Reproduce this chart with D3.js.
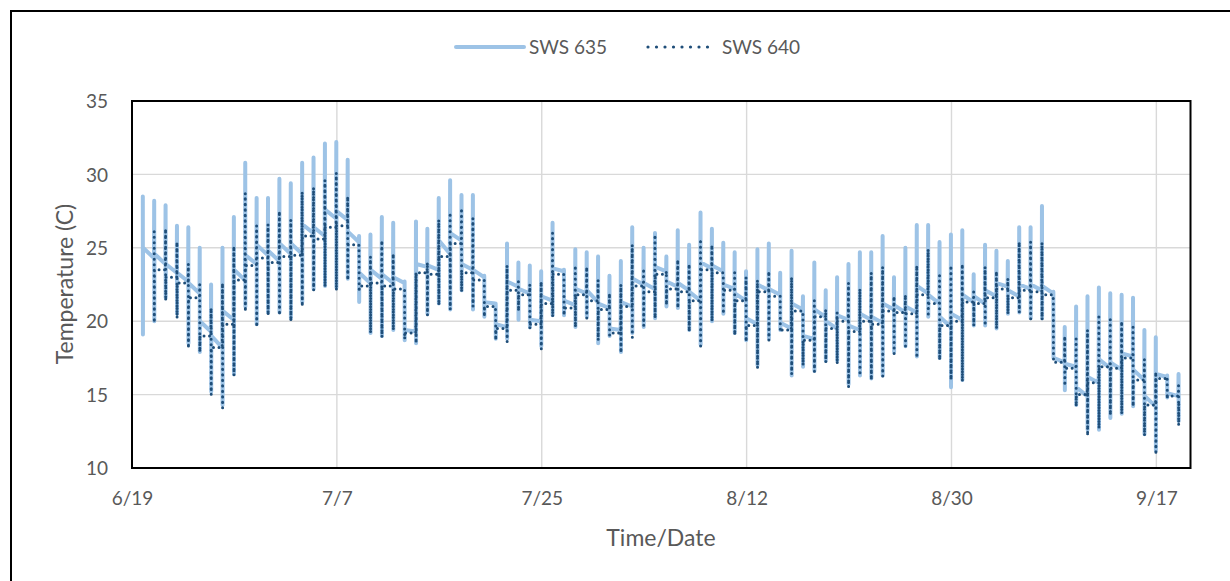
<!DOCTYPE html>
<html>
<head>
<meta charset="utf-8">
<script src="https://cdn.jsdelivr.net/npm/d3@7"></script>
<style>
  html, body { margin: 0; padding: 0; background: #fff; }
  text { font-family: Lato, "Open Sans", sans-serif; }
</style>
</head>
<body>
<div id="chart"></div>
<script>
// Daily readings; spike k sits just before midnight that ends day k (days counted from 6/19)
const startDate = "6/19";
const endDate = "9/20";
const tickLabels = ["6/19", "7/7", "7/25", "8/12", "8/30", "9/17"];
const yTicks = [10, 15, 20, 25, 30, 35];
const seriesNames = ["SWS 635", "SWS 640"];

// SWS 635: spikes k = 1..92
const hi635 = [28.5, 28.2, 27.9, 26.5, 26.4, 25.0, 22.5, 25.0, 27.1, 30.8,
  28.4, 28.4, 29.7, 29.4, 30.8, 31.15, 32.1, 32.2, 31.0, 25.8,
  25.9, 27.1, 26.7, 22.7, 26.8, 26.3, 28.4, 29.6, 28.6, 28.6,
  23.1, 21.2, 25.3, 24.0, 23.8, 23.4, 26.7, 23.5, 24.9, 24.7,
  24.4, 23.1, 24.1, 26.4, 25.0, 26.0, 24.4, 26.2, 25.2, 27.4,
  26.3, 25.35, 24.7, 23.4, 24.9, 25.3, 23.3, 24.8, 21.7, 24.0,
  22.1, 23.0, 23.9, 24.7, 24.7, 25.8, 23.0, 25.0, 26.55, 26.55,
  25.4, 25.9, 26.2, 23.2, 25.2, 24.8, 24.1, 26.4, 26.4, 27.85,
  22.0, 19.6, 21.0, 21.7, 22.3, 21.9, 21.8, 21.6, 19.4, 18.9, 16.3, 16.4];
const lo635 = [19.1, 20.0, 21.6, 20.5, 18.5, 17.9, 15.2, 14.3, 16.4, 21.0,
  19.8, 20.6, 20.6, 20.2, 21.3, 22.2, 22.4, 22.3, 22.9, 21.3,
  19.2, 19.0, 19.4, 18.7, 18.5, 20.5, 21.2, 20.8, 22.1, 20.8,
  20.3, 18.8, 18.8, 20.1, 19.6, 18.3, 20.4, 20.4, 19.6, 20.3,
  18.5, 19.0, 17.9, 19.2, 19.6, 20.2, 21.0, 20.9, 19.4, 18.4,
  20.0, 20.5, 19.2, 18.7, 17.0, 18.8, 19.4, 16.3, 16.9, 16.6,
  17.3, 17.3, 15.7, 16.3, 16.1, 16.3, 17.9, 18.3, 17.6, 20.3,
  17.5, 15.5, 16.0, 19.7, 19.7, 19.5, 20.5, 20.6, 20.2, 20.2,
  17.5, 15.3, 14.3, 12.6, 12.6, 13.4, 13.7, 14.2, 12.3, 11.2, 14.8, 13.2];
// baseline right after each spike, and just before the next one
const start635 = [25.0, 24.6, 23.9, 23.3, 22.6, 20.0, 19.0, 20.7, 23.5, 24.5,
  25.2, 24.8, 25.3, 25.3, 26.6, 26.4, 27.6, 27.5, 26.1, 23.3,
  23.5, 23.2, 23.0, 19.4, 23.9, 23.8, 25.5, 26.0, 23.9, 23.5,
  21.3, 19.8, 22.7, 22.2, 20.1, 21.7, 23.6, 21.4, 22.2, 22.1,
  21.2, 19.5, 21.3, 22.9, 22.6, 23.7, 22.7, 22.6, 22.0, 24.0,
  23.8, 22.5, 21.9, 20.2, 22.5, 22.2, 19.9, 21.2, 19.0, 20.8,
  20.0, 20.4, 19.7, 20.5, 20.3, 21.2, 21.1, 21.0, 22.4, 21.8,
  20.3, 20.5, 21.8, 21.7, 22.1, 22.6, 22.1, 22.5, 22.5, 22.4,
  17.5, 17.1, 15.5, 16.2, 17.4, 17.2, 17.8, 16.7, 14.9, 16.4, 15.1, 14.9];
const end635 = [24.3, 23.9, 23.3, 22.7, 21.9, 19.3, 18.2, 20.1, 22.8, 23.9,
  24.5, 24.1, 24.6, 24.6, 26.0, 25.8, 27.0, 26.9, 25.4, 22.6,
  22.9, 22.6, 22.6, 19.3, 23.7, 23.5, 24.6, 25.5, 23.5, 23.0,
  21.2, 19.6, 22.35, 21.9, 20.0, 21.4, 23.4, 21.1, 21.9, 21.3,
  20.9, 19.4, 21.0, 22.5, 22.2, 23.4, 22.35, 22.1, 21.4, 23.6,
  23.4, 22.2, 21.4, 19.8, 22.1, 21.8, 19.5, 20.8, 18.8, 20.3,
  19.5, 20.1, 19.4, 20.1, 19.9, 20.8, 20.6, 20.6, 21.9, 21.2,
  19.6, 20.1, 21.3, 21.2, 21.7, 22.35, 21.7, 22.2, 22.1, 21.9,
  17.2, 16.9, 14.9, 15.8, 16.8, 16.7, 17.6, 16.0, 14.2, 16.2, 14.9];

// SWS 640: spikes k = 2..92
const hi640 = [26.1, 26.3, 25.4, 23.9, 22.5, 20.9, 22.6, 25.1, 28.7, 26.5,
  26.6, 27.5, 26.9, 28.8, 29.1, 29.6, 30.1, 28.5, 24.6, 24.4,
  25.5, 24.6, 22.1, 23.3, 24.0, 26.9, 27.4, 27.7, 27.0, 22.8,
  20.5, 23.8, 22.7, 22.5, 22.7, 26.0, 23.0, 23.8, 23.7, 22.8,
  21.9, 22.5, 25.2, 23.6, 25.9, 23.4, 24.2, 23.9, 25.6, 25.2,
  22.9, 23.3, 23.0, 22.8, 23.4, 21.7, 23.0, 20.4, 21.4, 20.8,
  20.6, 22.6, 22.2, 23.3, 23.7, 21.7, 21.8, 23.8, 24.9, 23.1,
  23.8, 23.9, 22.0, 23.7, 23.4, 22.9, 25.4, 25.4, 25.35, 21.3,
  19.0, 18.8, 19.4, 20.3, 20.1, 20.0, 19.6, 17.4, 16.55, 16.2, 15.6];
const lo640 = [19.9, 21.4, 20.2, 18.15, 17.9, 15.0, 14.1, 16.3, 20.65, 19.6,
  20.4, 20.4, 20.0, 21.0, 22.1, 22.35, 22.1, 22.8, 22.0, 19.2,
  18.9, 19.4, 18.8, 18.5, 20.4, 21.1, 20.8, 22.0, 21.0, 20.3,
  18.7, 18.6, 20.7, 19.5, 18.1, 20.3, 20.4, 19.6, 20.2, 18.7,
  19.05, 17.85, 18.9, 19.7, 20.2, 21.1, 20.9, 19.3, 18.3, 20.0,
  20.5, 19.05, 18.6, 16.8, 18.7, 19.3, 16.4, 17.0, 16.55, 17.2,
  17.1, 15.5, 16.3, 16.0, 16.25, 17.8, 18.3, 17.5, 20.3, 17.35,
  16.0, 15.9, 19.7, 19.7, 19.5, 20.5, 20.6, 20.15, 20.1, 17.6,
  15.6, 14.2, 12.2, 12.7, 13.6, 13.7, 14.2, 12.2, 10.9, 14.7, 12.9];
const base640 = [23.5, 23.0, 22.6, 21.6, 19.0, 18.2, 19.8, 22.8, 23.8, 24.3,
  24.0, 24.4, 24.5, 25.8, 25.6, 26.4, 26.5, 25.2, 22.4, 22.6,
  22.4, 22.2, 19.2, 23.3, 23.2, 24.4, 25.3, 23.3, 22.8, 21.0,
  19.5, 22.1, 21.8, 19.8, 21.2, 23.2, 20.9, 21.8, 21.4, 20.8,
  19.2, 21.0, 22.4, 22.0, 23.2, 22.2, 22.0, 21.4, 23.5, 23.3,
  22.1, 21.4, 19.7, 22.0, 21.7, 19.4, 20.7, 18.7, 20.3, 19.5,
  20.0, 19.3, 20.0, 19.8, 20.7, 20.6, 20.5, 21.8, 21.2, 19.7,
  20.0, 21.3, 21.2, 21.6, 22.2, 21.6, 22.1, 22.0, 21.8, 17.2,
  16.8, 15.0, 15.8, 16.9, 16.8, 17.5, 16.0, 14.3, 16.1, 14.9, 14.6];

const W = 1230, H = 581;
const margin = { left: 132, top: 101, right: W - 1190.5, bottom: H - 468 };
const parseMD = d3.timeParse("%Y/%m/%d");
const toDate = s => parseMD("2023/" + s);
const t0 = toDate(startDate);
const dayAt = d => new Date(t0.getTime() + d * 864e5);

const svg = d3.select("#chart").append("svg")
  .attr("width", W)
  .attr("height", H);

// outer chart frame (right and bottom edges fall outside the picture)
svg.append("rect")
  .attr("x", 11).attr("y", 11)
  .attr("width", W + 20).attr("height", H + 20)
  .attr("fill", "#fff").attr("stroke", "#000").attr("stroke-width", 2);

const x = d3.scaleTime()
  .domain([t0, toDate(endDate)])
  .range([margin.left, W - margin.right]);
const y = d3.scaleLinear()
  .domain([10, 35])
  .range([H - margin.bottom, margin.top]);

// gridlines
svg.append("g")
  .selectAll("line")
  .data(yTicks.slice(1, -1))
  .join("line")
  .attr("x1", x.range()[0]).attr("x2", x.range()[1])
  .attr("y1", d => y(d)).attr("y2", d => y(d))
  .attr("stroke", "#d9d9d9").attr("stroke-width", 1.4);

svg.append("g")
  .selectAll("line")
  .data(tickLabels.slice(1).map(toDate))
  .join("line")
  .attr("x1", d => x(d)).attr("x2", d => x(d))
  .attr("y1", y.range()[0]).attr("y2", y.range()[1])
  .attr("stroke", "#d9d9d9").attr("stroke-width", 1.4);

// SWS 635 path
const pts635 = [];
hi635.forEach((h, i) => {
  const k = i + 1;
  if (i > 0) pts635.push([k - 0.07, end635[i - 1]]);
  pts635.push([k - 0.05, h]);
  pts635.push([k - 0.04, lo635[i]]);
  pts635.push([k - 0.03, start635[i]]);
});

// SWS 640 path
const pts640 = [];
hi640.forEach((h, i) => {
  const k = i + 2;
  if (i > 0) pts640.push([k - 0.07, base640[i - 1]]);
  pts640.push([k - 0.05, h]);
  pts640.push([k - 0.04, lo640[i]]);
  pts640.push([k - 0.03, base640[i]]);
});

const line = d3.line()
  .x(d => x(dayAt(d[0])))
  .y(d => y(d[1]));

svg.append("path")
  .datum(pts635)
  .attr("d", line)
  .attr("fill", "none")
  .attr("stroke", "#9dc3e6")
  .attr("stroke-width", 4)
  .attr("stroke-linejoin", "round")
  .attr("stroke-linecap", "round");

svg.append("path")
  .datum(pts640)
  .attr("d", line)
  .attr("fill", "none")
  .attr("stroke", "#1f4e79")
  .attr("stroke-width", 3)
  .attr("stroke-dasharray", "0,5.5")
  .attr("stroke-linecap", "round");

// plot border
svg.append("rect")
  .attr("x", margin.left).attr("y", margin.top)
  .attr("width", x.range()[1] - x.range()[0])
  .attr("height", y.range()[0] - y.range()[1])
  .attr("fill", "none").attr("stroke", "#000").attr("stroke-width", 2);

// axes
const yAxis = svg.append("g")
  .attr("transform", `translate(${margin.left - 24},0)`)
  .call(d3.axisLeft(y).tickValues(yTicks).tickSize(0).tickPadding(0));
yAxis.select(".domain").remove();
yAxis.selectAll("text")
  .attr("fill", "#595959").style("font-size", "19px").attr("dy", "0.35em");

const xAxis = svg.append("g")
  .attr("transform", `translate(0,${H - margin.bottom})`)
  .call(d3.axisBottom(x).tickValues(tickLabels.map(toDate))
    .tickFormat(d3.timeFormat("%-m/%-d")).tickSize(0).tickPadding(24));
xAxis.select(".domain").remove();
xAxis.selectAll("text")
  .attr("fill", "#595959").style("font-size", "19px");

svg.append("text")
  .attr("x", 661).attr("y", 546)
  .attr("text-anchor", "middle")
  .attr("fill", "#595959").style("font-size", "23px")
  .text("Time/Date");

svg.append("text")
  .attr("transform", "translate(73,284) rotate(-90)")
  .attr("text-anchor", "middle")
  .attr("fill", "#595959").style("font-size", "23px")
  .text("Temperature (C)");

// legend
const legend = svg.append("g");
legend.append("line")
  .attr("x1", 456).attr("x2", 524).attr("y1", 47).attr("y2", 47)
  .attr("stroke", "#9dc3e6").attr("stroke-width", 4).attr("stroke-linecap", "round");
legend.append("text")
  .attr("x", 529).attr("y", 54)
  .attr("fill", "#595959").style("font-size", "19px")
  .text(seriesNames[0]);
legend.append("line")
  .attr("x1", 648).attr("x2", 716).attr("y1", 47).attr("y2", 47)
  .attr("stroke", "#1f4e79").attr("stroke-width", 3.2)
  .attr("stroke-dasharray", "0,8.5").attr("stroke-linecap", "round");
legend.append("text")
  .attr("x", 722).attr("y", 54)
  .attr("fill", "#595959").style("font-size", "19px")
  .text(seriesNames[1]);
</script>
</body>
</html>
